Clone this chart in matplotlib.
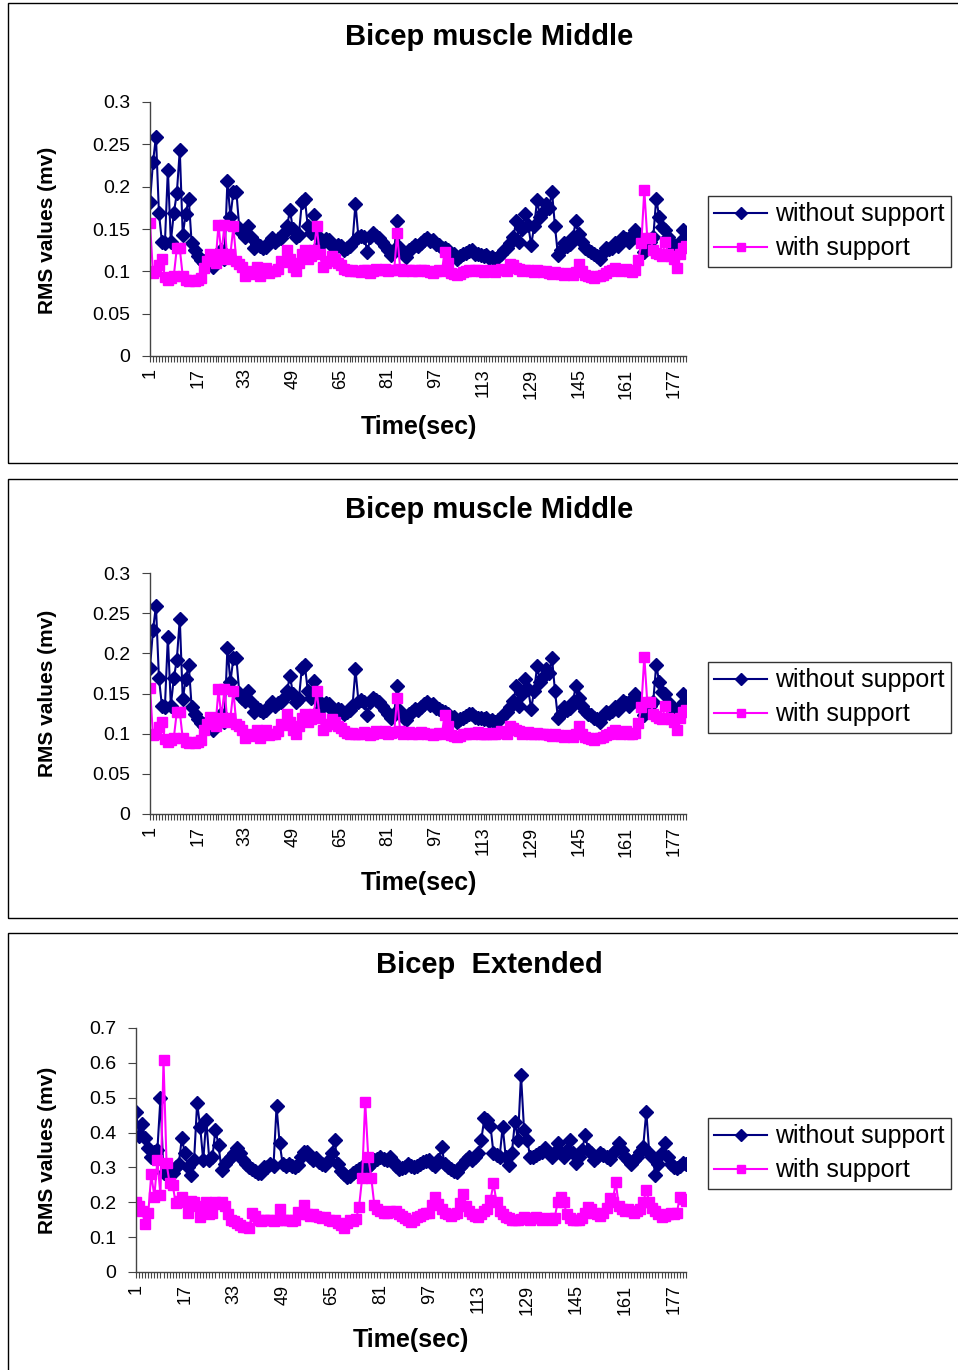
import matplotlib
matplotlib.use("Agg")
import matplotlib.pyplot as plt
from matplotlib.patches import Rectangle
import numpy as np

plt.rcParams["font.family"] = ["Liberation Sans", "DejaVu Sans"]

# ---- data ----
time_sec = list(range(1, 182))
xtick_labels = [str(v) for v in range(1, 178, 16)]

mid_without = [
    0.182, 0.229, 0.259, 0.169, 0.135, 0.133, 0.220, 0.135, 0.169, 0.192, 0.243, 0.143, 0.168, 0.186, 0.133, 0.125,
    0.118, 0.113, 0.110, 0.115, 0.118, 0.105, 0.115, 0.120, 0.125, 0.115, 0.207, 0.164, 0.194, 0.194, 0.151, 0.145,
    0.141, 0.153, 0.140, 0.127, 0.132, 0.130, 0.127, 0.129, 0.135, 0.139, 0.135, 0.138, 0.139, 0.145, 0.153, 0.172,
    0.150, 0.140, 0.143, 0.182, 0.185, 0.153, 0.145, 0.166, 0.143, 0.131, 0.135, 0.138, 0.137, 0.130, 0.128, 0.131,
    0.130, 0.125, 0.127, 0.130, 0.134, 0.180, 0.140, 0.142, 0.140, 0.123, 0.140, 0.145, 0.142, 0.139, 0.135, 0.130,
    0.125, 0.119, 0.125, 0.159, 0.128, 0.122, 0.117, 0.125, 0.127, 0.131, 0.130, 0.133, 0.137, 0.139, 0.136, 0.137,
    0.132, 0.131, 0.128, 0.127, 0.125, 0.120, 0.121, 0.115, 0.118, 0.120, 0.122, 0.124, 0.125, 0.121, 0.120, 0.119,
    0.118, 0.119, 0.116, 0.117, 0.115, 0.117, 0.120, 0.125, 0.127, 0.133, 0.141, 0.159, 0.135, 0.150, 0.168, 0.155,
    0.131, 0.153, 0.184, 0.164, 0.170, 0.180, 0.175, 0.194, 0.153, 0.119, 0.125, 0.133, 0.130, 0.132, 0.140, 0.159,
    0.144, 0.135, 0.128, 0.125, 0.123, 0.120, 0.118, 0.115, 0.122, 0.127, 0.126, 0.128, 0.133, 0.130, 0.135, 0.141,
    0.138, 0.135, 0.143, 0.149, 0.140, 0.135, 0.123, 0.130, 0.135, 0.140, 0.186, 0.164, 0.152, 0.149, 0.140, 0.135,
    0.129, 0.125, 0.135, 0.149, 0.139,
]
mid_with = [
    0.157, 0.098, 0.100, 0.108, 0.115, 0.093, 0.090, 0.092, 0.095, 0.127, 0.127, 0.094, 0.090, 0.088, 0.090, 0.088,
    0.090, 0.092, 0.104, 0.112, 0.121, 0.115, 0.110, 0.155, 0.120, 0.155, 0.115, 0.120, 0.153, 0.112, 0.109, 0.105,
    0.094, 0.098, 0.100, 0.097, 0.105, 0.095, 0.100, 0.104, 0.098, 0.100, 0.100, 0.103, 0.112, 0.111, 0.125, 0.115,
    0.105, 0.100, 0.110, 0.120, 0.125, 0.115, 0.118, 0.125, 0.153, 0.120, 0.105, 0.110, 0.112, 0.118, 0.115, 0.110,
    0.107, 0.103, 0.101, 0.100, 0.101, 0.100, 0.100, 0.099, 0.102, 0.101, 0.098, 0.100, 0.103, 0.102, 0.101, 0.103,
    0.100, 0.101, 0.102, 0.145, 0.103, 0.100, 0.101, 0.102, 0.100, 0.101, 0.100, 0.102, 0.101, 0.100, 0.099, 0.098,
    0.100, 0.101, 0.100, 0.123, 0.110, 0.098, 0.097, 0.096, 0.097, 0.099, 0.100, 0.101, 0.100, 0.101, 0.102, 0.100,
    0.099, 0.100, 0.101, 0.100, 0.099, 0.101, 0.103, 0.101, 0.100, 0.109, 0.107, 0.104, 0.103, 0.100, 0.101, 0.102,
    0.100, 0.099, 0.101, 0.100, 0.099, 0.100, 0.098, 0.097, 0.099, 0.098, 0.097, 0.096, 0.098, 0.097, 0.096, 0.099,
    0.109, 0.100, 0.096, 0.094, 0.093, 0.092, 0.094, 0.095, 0.096, 0.098, 0.100, 0.102, 0.104, 0.102, 0.100, 0.101,
    0.103, 0.100, 0.099, 0.101, 0.113, 0.133, 0.196, 0.139, 0.139, 0.125, 0.122, 0.120, 0.118, 0.135, 0.120, 0.118,
    0.115, 0.104, 0.120, 0.127, 0.130,
]
ext_without = [
    0.460, 0.390, 0.425, 0.384, 0.355, 0.330, 0.345, 0.350, 0.499, 0.283, 0.300, 0.290, 0.283, 0.300, 0.310, 0.384,
    0.340, 0.300, 0.278, 0.320, 0.484, 0.417, 0.320, 0.436, 0.320, 0.330, 0.408, 0.364, 0.292, 0.310, 0.320, 0.330,
    0.340, 0.355, 0.340, 0.320, 0.310, 0.302, 0.295, 0.290, 0.285, 0.283, 0.300, 0.300, 0.310, 0.305, 0.475, 0.370,
    0.310, 0.305, 0.310, 0.305, 0.300, 0.307, 0.330, 0.345, 0.345, 0.330, 0.320, 0.326, 0.315, 0.310, 0.307, 0.320,
    0.340, 0.379, 0.310, 0.290, 0.280, 0.273, 0.275, 0.285, 0.290, 0.295, 0.300, 0.305, 0.300, 0.310, 0.320, 0.325,
    0.331, 0.325, 0.320, 0.330, 0.318, 0.305, 0.295, 0.297, 0.300, 0.310, 0.305, 0.300, 0.305, 0.310, 0.315, 0.318,
    0.320, 0.310, 0.305, 0.320, 0.360, 0.310, 0.300, 0.295, 0.290, 0.288, 0.300, 0.310, 0.320, 0.331, 0.320, 0.330,
    0.340, 0.379, 0.441, 0.436, 0.420, 0.340, 0.336, 0.330, 0.417, 0.330, 0.307, 0.340, 0.431, 0.380, 0.566, 0.408,
    0.380, 0.330, 0.330, 0.335, 0.340, 0.345, 0.355, 0.340, 0.330, 0.345, 0.370, 0.340, 0.330, 0.350, 0.379, 0.340,
    0.312, 0.330, 0.350, 0.393, 0.350, 0.340, 0.321, 0.330, 0.340, 0.335, 0.330, 0.325, 0.340, 0.350, 0.370, 0.350,
    0.330, 0.320, 0.310, 0.320, 0.330, 0.345, 0.360, 0.460, 0.340, 0.330, 0.278, 0.310, 0.340, 0.369, 0.330, 0.310,
    0.300, 0.297, 0.305, 0.312, 0.310,
]
ext_with = [
    0.201, 0.190, 0.175, 0.139, 0.168, 0.281, 0.216, 0.321, 0.220, 0.607, 0.312, 0.254, 0.250, 0.197, 0.205, 0.216,
    0.200, 0.168, 0.205, 0.200, 0.190, 0.158, 0.170, 0.200, 0.165, 0.170, 0.200, 0.195, 0.200, 0.190, 0.165, 0.149,
    0.145, 0.140, 0.134, 0.130, 0.128, 0.125, 0.168, 0.160, 0.150, 0.145, 0.150, 0.148, 0.150, 0.145, 0.150, 0.182,
    0.150, 0.148, 0.150, 0.145, 0.150, 0.173, 0.165, 0.192, 0.165, 0.160, 0.165, 0.160, 0.158, 0.155, 0.158, 0.150,
    0.145, 0.150, 0.140, 0.135, 0.125, 0.140, 0.150, 0.145, 0.153, 0.187, 0.269, 0.489, 0.331, 0.270, 0.192, 0.180,
    0.175, 0.170, 0.170, 0.175, 0.172, 0.175, 0.165, 0.160, 0.155, 0.150, 0.144, 0.150, 0.158, 0.160, 0.165, 0.168,
    0.170, 0.192, 0.216, 0.195, 0.180, 0.170, 0.165, 0.160, 0.165, 0.170, 0.197, 0.225, 0.190, 0.175, 0.165, 0.160,
    0.158, 0.165, 0.175, 0.180, 0.206, 0.254, 0.200, 0.175, 0.165, 0.158, 0.155, 0.150, 0.148, 0.150, 0.152, 0.158,
    0.155, 0.150, 0.155, 0.158, 0.155, 0.150, 0.152, 0.155, 0.150, 0.155, 0.200, 0.216, 0.200, 0.165, 0.155, 0.150,
    0.150, 0.149, 0.155, 0.170, 0.187, 0.180, 0.170, 0.165, 0.160, 0.170, 0.185, 0.211, 0.200, 0.259, 0.190, 0.180,
    0.175, 0.180, 0.175, 0.170, 0.175, 0.180, 0.200, 0.235, 0.200, 0.185, 0.175, 0.165, 0.158, 0.160, 0.165, 0.170,
    0.165, 0.170, 0.216, 0.210, 0.205,
]

W, H = 958, 1370
fig = plt.figure(figsize=(W / 100, H / 100), dpi=100)


def px_box(x0, y0, x1, y1):
    # pixel box (top-left origin) -> figure fraction [left, bottom, width, height]
    return [x0 / W, 1 - y1 / H, (x1 - x0) / W, (y1 - y0) / H]


def fig_text(x, y, s, **kw):
    fig.text(x / W, 1 - y / H, s, ha="center", va="center", **kw)


def draw_panel(frame, axbox, title, title_y, without, with_, ymax, ystep, leg_top, ylab_y, xlab_xy):
    fx0, fy0, fx1, fy1 = frame
    fig.patches.append(Rectangle((fx0 / W, 1 - fy1 / H), (fx1 - fx0) / W, (fy1 - fy0) / H,
                                 transform=fig.transFigure, fill=False, edgecolor="black", linewidth=1.0))
    fig_text(489, title_y, title, fontsize=21, fontweight="bold")
    fig_text(48, ylab_y, "RMS values (mv)", fontsize=15, fontweight="bold", rotation=90)
    fig_text(xlab_xy[0], xlab_xy[1], "Time(sec)", fontsize=18, fontweight="bold")

    ax = fig.add_axes(px_box(*axbox))
    l1, = ax.plot(time_sec, without, color="#000080", marker="D", markersize=7, linewidth=1.5,
                  label="without support")
    l2, = ax.plot(time_sec, with_, color="#FF00FF", marker="s", markersize=6.5, linewidth=1.5,
                  label="with support")
    ax.set_xlim(1, 181)
    ax.set_ylim(0, ymax)
    yt = np.round(np.arange(0, ymax + ystep / 2, ystep), 2)
    ax.set_yticks(yt)
    ax.set_yticklabels([("%g" % v) for v in yt], fontsize=14)
    ax.set_xticks(range(1, 178, 16))
    ax.set_xticklabels(xtick_labels, rotation=90, fontsize=13)
    ax.set_xticks(time_sec, minor=True)
    ax.tick_params(axis="x", which="minor", length=4, width=0.8, color="#444444")
    ax.tick_params(axis="x", which="major", length=4, width=0.8, color="#444444", pad=5)
    ax.tick_params(axis="y", length=6, width=0.8, color="#444444", pad=8)
    for s in ["top", "right"]:
        ax.spines[s].set_visible(False)
    for s in ["left", "bottom"]:
        ax.spines[s].set_color("#444444")
        ax.spines[s].set_linewidth(1.0)
    ax.set_facecolor("none")

    leg = fig.legend(handles=[l1, l2], loc="upper left",
                     bbox_to_anchor=(708 / W, 1 - leg_top / H), bbox_transform=fig.transFigure,
                     borderaxespad=0, fontsize=18, frameon=True, fancybox=False,
                     handlelength=2.1, handletextpad=0.35, labelspacing=0.4, borderpad=0.25)
    leg.get_frame().set_edgecolor("black")
    leg.get_frame().set_linewidth(1.0)
    for h in leg.legend_handles:
        h.set_markersize(6)
    return ax


draw_panel((8, 3, 962, 463), (150, 102, 686, 356), "Bicep muscle Middle", 37,
           mid_without, mid_with, 0.3, 0.05, 196, 230, (419, 427))
draw_panel((8, 479, 962, 918), (150, 573, 686, 814), "Bicep muscle Middle", 510,
           mid_without, mid_with, 0.3, 0.05, 662, 693, (419, 883))
draw_panel((8, 933, 962, 1372), (136, 1028, 686, 1272), "Bicep  Extended", 965,
           ext_without, ext_with, 0.7, 0.1, 1118, 1150, (411, 1340))

fig.savefig("out.png", dpi=100, facecolor="white")
